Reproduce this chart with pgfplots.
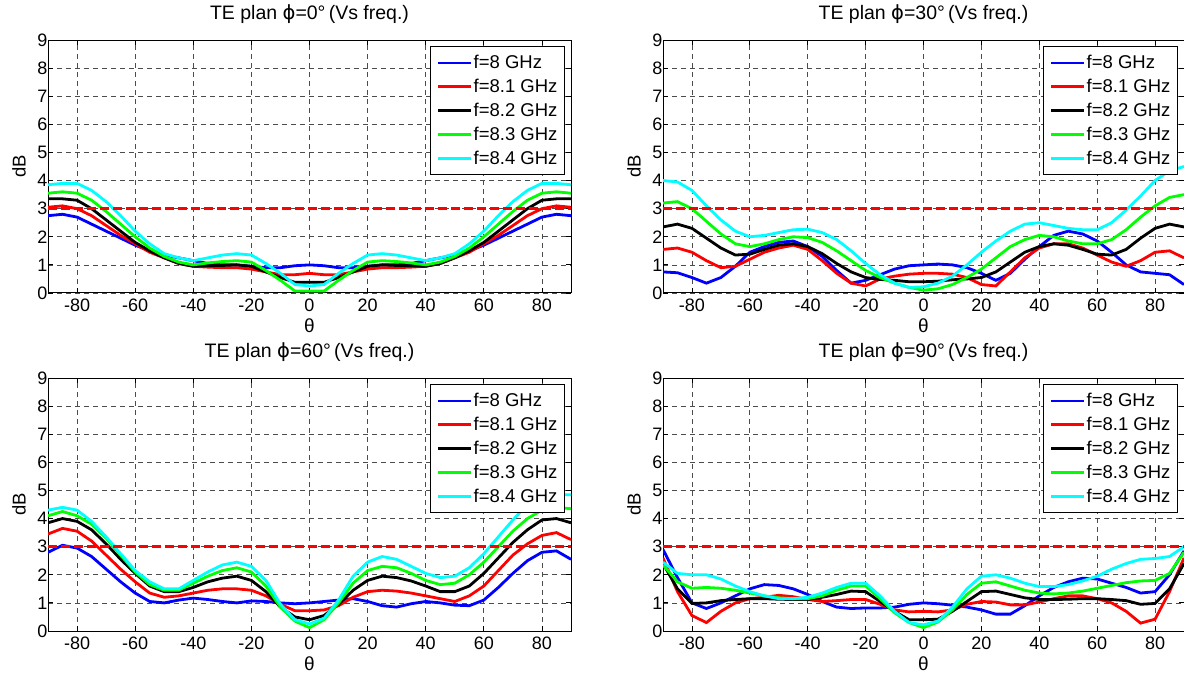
\documentclass[border=0pt]{standalone}
\usepackage{fontspec}
\setmainfont{Liberation Sans}
\newfontfamily\dv{DejaVu Sans}
\usepackage{pgfplots}
\usepackage{pgfplotstable}
\pgfplotsset{compat=1.18}
\definecolor{mblue}{rgb}{0,0,1}
\definecolor{mred}{rgb}{1,0,0}
\definecolor{mgreen}{rgb}{0,1,0}
\definecolor{mcyan}{rgb}{0,1,1}

\pgfplotstableread{
th b r k g c
-90 2.75 3.05 3.35 3.55 3.85
-85 2.80 3.10 3.35 3.60 3.90
-80 2.70 3.00 3.30 3.55 3.90
-75 2.45 2.75 3.00 3.30 3.65
-70 2.20 2.40 2.60 2.90 3.25
-65 1.95 2.05 2.20 2.45 2.75
-60 1.70 1.75 1.80 2.00 2.20
-55 1.50 1.45 1.50 1.60 1.75
-50 1.35 1.25 1.25 1.30 1.40
-45 1.25 1.05 1.05 1.10 1.25
-40 1.15 0.95 0.95 1.00 1.15
-35 1.05 0.92 0.97 1.07 1.25
-30 1.00 0.90 0.98 1.12 1.35
-25 1.00 0.90 1.00 1.15 1.40
-20 0.95 0.85 0.95 1.10 1.35
-15 0.90 0.75 0.75 0.80 1.05
-10 0.90 0.65 0.55 0.45 0.70
-5 0.97 0.65 0.38 0.07 0.30
0 1.00 0.70 0.38 0.07 0.25
5 0.97 0.65 0.38 0.07 0.30
10 0.90 0.65 0.55 0.45 0.70
15 0.90 0.75 0.75 0.80 1.05
20 0.95 0.85 0.95 1.10 1.35
25 1.00 0.90 1.00 1.15 1.40
30 1.00 0.90 0.98 1.12 1.35
35 1.05 0.92 0.97 1.07 1.25
40 1.15 0.95 0.95 1.00 1.15
45 1.25 1.05 1.05 1.10 1.25
50 1.35 1.25 1.25 1.30 1.40
55 1.50 1.45 1.50 1.60 1.75
60 1.70 1.75 1.80 2.00 2.20
65 1.95 2.05 2.20 2.45 2.75
70 2.20 2.40 2.60 2.90 3.25
75 2.45 2.75 3.00 3.30 3.65
80 2.70 3.00 3.30 3.55 3.90
85 2.80 3.10 3.35 3.60 3.90
90 2.75 3.05 3.35 3.55 3.85
}\tabA

\pgfplotstableread{
th b r k g c
-90 0.75 1.55 2.35 3.20 4.00
-85 0.72 1.60 2.45 3.25 3.95
-80 0.55 1.45 2.30 3.00 3.65
-75 0.35 1.15 1.95 2.55 3.10
-70 0.55 0.90 1.60 2.10 2.60
-65 0.95 0.95 1.35 1.75 2.20
-60 1.45 1.20 1.38 1.65 2.00
-55 1.65 1.45 1.55 1.75 2.05
-50 1.80 1.60 1.70 1.90 2.15
-45 1.85 1.70 1.75 2.00 2.25
-40 1.65 1.55 1.65 1.97 2.27
-35 1.30 1.15 1.40 1.80 2.15
-30 0.80 0.70 1.05 1.50 1.90
-25 0.35 0.35 0.75 1.15 1.50
-20 0.45 0.25 0.55 0.80 1.05
-15 0.65 0.50 0.48 0.55 0.65
-10 0.85 0.60 0.45 0.35 0.35
-5 0.97 0.67 0.40 0.20 0.20
0 1.00 0.70 0.40 0.10 0.22
5 1.03 0.70 0.42 0.15 0.35
10 1.00 0.67 0.47 0.30 0.60
15 0.90 0.55 0.50 0.55 1.00
20 0.70 0.30 0.55 0.85 1.45
25 0.45 0.25 0.75 1.25 1.85
30 0.70 0.75 1.10 1.65 2.20
35 1.20 1.25 1.45 1.90 2.45
40 1.65 1.60 1.65 2.05 2.50
45 2.05 1.75 1.75 2.00 2.40
50 2.20 1.75 1.70 1.85 2.30
55 2.10 1.60 1.55 1.75 2.25
60 1.85 1.35 1.38 1.75 2.25
65 1.45 1.10 1.35 1.90 2.50
70 1.00 0.95 1.55 2.25 2.95
75 0.75 1.15 1.95 2.70 3.45
80 0.70 1.45 2.30 3.10 4.00
85 0.65 1.50 2.45 3.40 4.35
90 0.30 1.25 2.35 3.50 4.50
}\tabB

\pgfplotstableread{
th b r k g c
-90 2.80 3.45 3.85 4.10 4.30
-85 3.05 3.65 4.00 4.25 4.40
-80 2.95 3.55 3.90 4.10 4.30
-75 2.65 3.20 3.60 3.80 3.90
-70 2.20 2.70 3.10 3.30 3.35
-65 1.75 2.20 2.55 2.70 2.75
-60 1.35 1.75 2.05 2.10 2.15
-55 1.05 1.35 1.60 1.65 1.75
-50 1.00 1.20 1.40 1.45 1.50
-45 1.10 1.25 1.40 1.45 1.50
-40 1.17 1.35 1.55 1.70 1.80
-35 1.12 1.45 1.75 1.95 2.10
-30 1.05 1.50 1.88 2.15 2.35
-25 1.00 1.50 1.95 2.25 2.45
-20 1.07 1.45 1.80 2.10 2.30
-15 1.05 1.25 1.40 1.60 1.80
-10 1.00 0.95 0.85 0.85 0.95
-5 0.97 0.72 0.50 0.35 0.40
0 1.00 0.72 0.40 0.12 0.25
5 1.05 0.75 0.55 0.40 0.45
10 1.10 0.90 0.95 1.00 1.10
15 1.15 1.20 1.45 1.70 1.95
20 1.05 1.40 1.80 2.15 2.45
25 0.90 1.45 1.95 2.30 2.65
30 0.85 1.42 1.90 2.25 2.55
35 0.97 1.35 1.78 2.05 2.30
40 1.05 1.25 1.60 1.80 2.05
45 1.00 1.15 1.40 1.65 1.90
50 0.92 1.05 1.40 1.70 1.95
55 0.90 1.25 1.60 2.00 2.25
60 1.10 1.60 2.05 2.45 2.75
65 1.55 2.15 2.60 3.00 3.35
70 2.05 2.70 3.15 3.55 3.95
75 2.50 3.10 3.60 4.00 4.50
80 2.80 3.40 3.95 4.30 4.80
85 2.85 3.50 4.00 4.40 4.85
90 2.55 3.25 3.85 4.35 4.85
}\tabC

\pgfplotstableread{
th b r k g c
-90 2.90 2.60 2.40 2.35 2.45
-85 1.90 1.40 1.50 1.75 2.05
-80 1.00 0.55 0.98 1.52 2.00
-75 0.80 0.30 1.00 1.55 2.00
-70 1.00 0.70 1.08 1.52 1.85
-65 1.25 1.00 1.12 1.45 1.60
-60 1.50 1.15 1.15 1.35 1.40
-55 1.65 1.20 1.15 1.25 1.25
-50 1.62 1.27 1.13 1.18 1.15
-45 1.50 1.22 1.12 1.15 1.15
-40 1.30 1.12 1.12 1.15 1.20
-35 1.05 1.05 1.20 1.25 1.35
-30 0.85 1.08 1.30 1.45 1.55
-25 0.80 1.12 1.42 1.60 1.70
-20 0.82 1.12 1.40 1.60 1.70
-15 0.82 0.95 1.05 1.15 1.25
-10 0.85 0.75 0.70 0.65 0.70
-5 0.95 0.68 0.40 0.30 0.30
0 1.00 0.70 0.40 0.12 0.22
5 0.97 0.68 0.42 0.32 0.35
10 0.92 0.75 0.70 0.75 0.85
15 0.85 0.95 1.05 1.30 1.50
20 0.75 1.05 1.40 1.70 1.95
25 0.60 1.03 1.42 1.75 2.00
30 0.60 0.93 1.30 1.60 1.88
35 0.90 0.93 1.18 1.45 1.70
40 1.25 1.03 1.12 1.35 1.58
45 1.55 1.15 1.12 1.32 1.58
50 1.75 1.25 1.13 1.35 1.65
55 1.88 1.25 1.15 1.42 1.78
60 1.85 1.15 1.15 1.52 1.95
65 1.70 1.00 1.12 1.62 2.20
70 1.55 0.70 1.08 1.72 2.40
75 1.35 0.28 0.95 1.78 2.55
80 1.40 0.42 0.98 1.80 2.58
85 2.00 1.40 1.50 2.05 2.65
90 2.85 2.60 2.40 2.80 3.00
}\tabD

\newcommand{\fnt}[1]{\fontsize{#1}{#1}\selectfont}

\pgfplotsset{
 mystyle/.style={
  scale only axis, width=523bp, height=253bp,
  xmin=-90, xmax=90, ymin=0, ymax=9,
  xtick={-80,-60,...,80}, ytick={0,1,...,9},
  grid=major,
  major grid style={black!70, line width=0.7bp, dash pattern=on 5bp off 4bp},
  tick align=inside, major tick length=5bp,
  tick style={black, line width=0.8bp},
  axis line style={line width=1bp},
  /pgf/number format/assume math mode=true,
  xticklabel style={font=\fnt{18bp}, yshift=-2bp},
  yticklabel style={font=\fnt{18bp}, xshift=3bp},
  xlabel={θ}, ylabel={dB},
  xlabel style={font=\fnt{19bp}, at={(axis description cs:0.5,-0.13)}, anchor=center},
  ylabel style={font=\fnt{18.5bp}, at={(axis description cs:-0.0555,0.5)}, anchor=center},
  title style={font=\fnt{19.5bp}, at={(axis description cs:0.5,1.079)}, anchor=center},
  legend cell align=left,
  legend style={at={(1,1)}, anchor=north east, xshift=-6bp, yshift=-6bp,
    draw=black, line width=1bp, fill=white, font=\fnt{18.5bp},
    inner xsep=6bp, inner ysep=8bp, row sep=7bp,
    nodes={inner xsep=1bp, inner ysep=1bp}},
  legend image code/.code={\draw[#1, line width=2.8bp] (0bp,0bp) -- (33bp,0bp);},
 }
}

\newcommand{\curves}[1]{
  \addplot[mblue, line width=2.8bp] table[x=th,y=b]{#1};
  \addplot[mred, line width=2.8bp] table[x=th,y=r]{#1};
  \addplot[black, line width=2.8bp] table[x=th,y=k]{#1};
  \addplot[mgreen, line width=2.8bp] table[x=th,y=g]{#1};
  \addplot[mcyan, line width=2.8bp] table[x=th,y=c]{#1};
  \addplot[mred, forget plot, line width=2.8bp, dash pattern=on 9bp off 4bp] coordinates {(-90,3) (90,3)};
  \legend{f=8 GHz, f=8.1 GHz, f=8.2 GHz, f=8.3 GHz, f=8.4 GHz}
}

\begin{document}
\begin{tikzpicture}
\useasboundingbox (0,0) rectangle (1184bp,673bp);
\begin{axis}[mystyle, at={(48bp,380bp)}, anchor=south west, title={TE plan {\dv ϕ}=0°\,(Vs freq.)}]
\curves{\tabA}
\end{axis}
\begin{axis}[mystyle, width=521bp, at={(663bp,380bp)}, anchor=south west, title={TE plan {\dv ϕ}=30°\,(Vs freq.)}]
\curves{\tabB}
\end{axis}
\begin{axis}[mystyle, at={(48bp,42bp)}, anchor=south west, title={TE plan {\dv ϕ}=60°\,(Vs freq.)}]
\curves{\tabC}
\end{axis}
\begin{axis}[mystyle, width=521bp, at={(663bp,42bp)}, anchor=south west, title={TE plan {\dv ϕ}=90°\,(Vs freq.)}]
\curves{\tabD}
\end{axis}
\end{tikzpicture}
\end{document}
